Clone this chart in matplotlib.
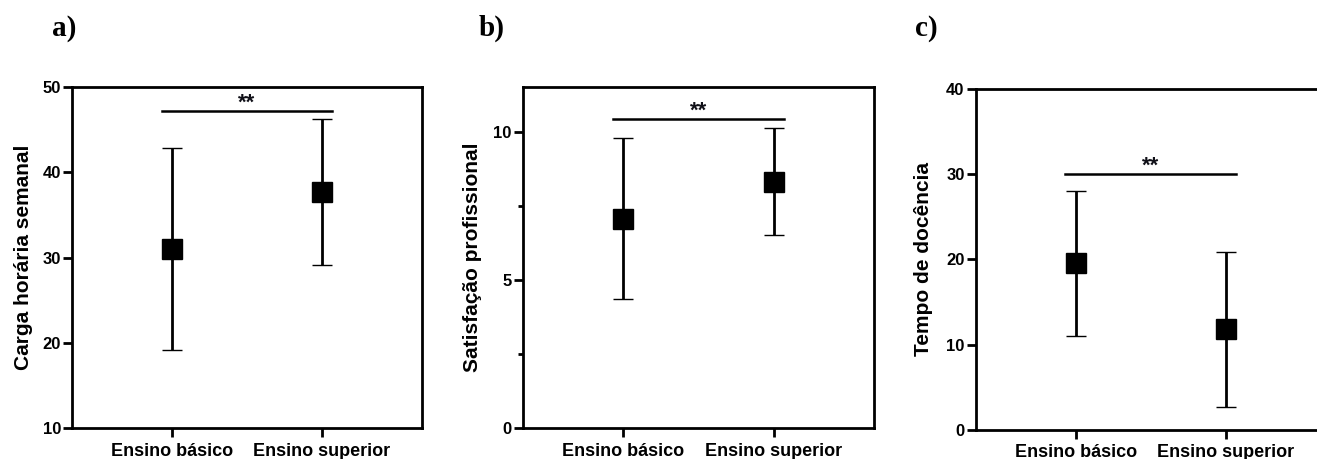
import numpy as np
import matplotlib.pyplot as plt
from matplotlib.ticker import MultipleLocator

plt.rcParams['font.family'] = ['Liberation Sans', 'DejaVu Sans']

groups = ['Ensino básico', 'Ensino superior']

# mean, lower end, upper end of each error bar
carga_mean = [31.0, 37.7]
carga_low = [19.2, 29.1]
carga_high = [42.8, 46.3]

satis_mean = [7.07, 8.32]
satis_low = [4.36, 6.52]
satis_high = [9.8, 10.15]

tempo_mean = [19.6, 11.8]
tempo_low = [11.0, 2.7]
tempo_high = [28.0, 20.9]

sig_y = [47.2, 10.45, 30.0]
labels = ['Carga horária semanal', 'Satisfação profissional', 'Tempo de docência']
panel_tags = ['a)', 'b)', 'c)']

W, H = 1317, 459
fig = plt.figure(figsize=(W / 100, H / 100), dpi=100)

# axes boxes in pixels: left, top, right, bottom
boxes = [(72, 87, 422, 428), (522.7, 87.3, 874, 428), (975.7, 89, 1325.7, 429.7)]
ylims = [(10, 50), (0, 11.52), (0, 40)]
majors = [10, 5, 10]
label_x = [-0.111, -0.116, -0.122]
tag_x = [52, 479, 915]

data = [(carga_mean, carga_low, carga_high),
        (satis_mean, satis_low, satis_high),
        (tempo_mean, tempo_low, tempo_high)]

for i in range(3):
    l, t, r, b = boxes[i]
    ax = fig.add_axes([l / W, (H - b) / H, (r - l) / W, (b - t) / H])
    mean, low, high = [np.array(v) for v in data[i]]
    x = np.arange(len(groups))
    ax.errorbar(x, mean, yerr=[mean - low, high - mean], fmt='s', color='black',
                ms=14.5, mew=1, elinewidth=2, capsize=7.5, capthick=2)
    ax.plot([-0.07, 1.07], [sig_y[i], sig_y[i]], color='black', lw=1.8)
    ax.annotate('**', (0.5, sig_y[i]), xytext=(0, 1.5), textcoords='offset points',
                ha='center', va='baseline', fontsize=16, fontweight='bold',
                color='#101018')

    ax.set_xlim(-0.667, 1.667)
    ax.set_ylim(*ylims[i])
    ax.yaxis.set_major_locator(MultipleLocator(majors[i]))
    if i == 1:
        ax.yaxis.set_minor_locator(MultipleLocator(2.5))
    ax.set_xticks(x)
    ax.set_xticklabels(groups, fontsize=13, fontweight='bold')
    for lab in ax.get_yticklabels():
        lab.set_fontweight('bold')
    ax.tick_params(axis='y', labelsize=12, length=6.5, width=2, pad=1.5)
    ax.tick_params(axis='y', which='minor', length=3.5, width=2)
    ax.tick_params(axis='x', length=6.5, width=2, pad=4)
    for s in ax.spines.values():
        s.set_linewidth(2)
    ax.set_ylabel(labels[i], fontsize=15, fontweight='bold')
    ax.yaxis.set_label_coords(label_x[i], 0.5)

    fig.text(tag_x[i] / W, (H - 36) / H, panel_tags[i], family='Liberation Serif',
             fontsize=21, fontweight='bold', ha='left', va='baseline')

plt.savefig('out.png', dpi=100)
